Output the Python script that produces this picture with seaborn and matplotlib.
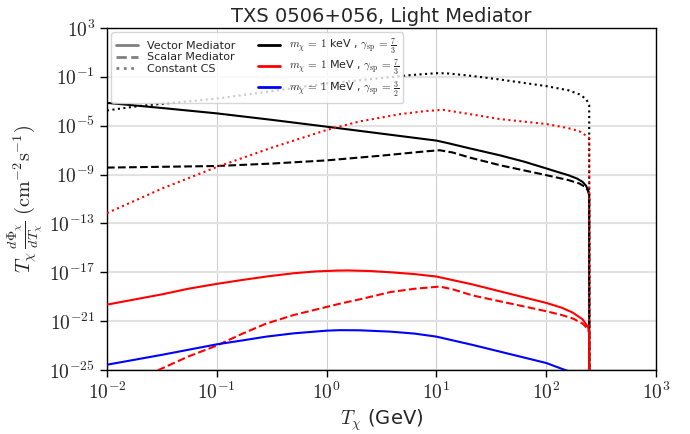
import numpy as np
import pandas as pd
import seaborn as sns
import matplotlib
matplotlib.use("Agg")
import matplotlib.pyplot as plt
from matplotlib.lines import Line2D
from matplotlib.ticker import FixedLocator, FuncFormatter, LogLocator, NullLocator

# ---- data (log10 T [GeV], log10 flux) ----
cut_logT = 2.392  # kinematic cutoff (~247 GeV), flux drops to ~0 there
zero_log = -40.0

keV_vec_logT = [-2, -1.5, -1, -0.5, 0, 0.5, 1.0, 1.1, 1.3, 1.58, 1.8, 2.0, 2.1, 2.2, 2.28, 2.33, 2.36, 2.38, 2.39, cut_logT]
keV_vec_logF = [-3.13, -3.55, -3.99, -4.52, -5.08, -5.65, -6.22, -6.42, -6.85, -7.43, -7.95, -8.5, -8.78, -9.05, -9.33, -9.6, -9.9, -10.25, -10.6, zero_log]

keV_sca_logT = [-2, -1, -0.5, 0, 0.5, 0.9, 1.03, 1.15, 1.3, 1.58, 2.0, 2.2, 2.3, 2.36, 2.38, 2.39, cut_logT]
keV_sca_logF = [-8.43, -8.30, -8.1, -7.84, -7.45, -7.1, -7.01, -7.2, -7.6, -8.24, -9.05, -9.45, -9.73, -10.05, -10.35, -10.7, zero_log]

keV_ccs_logT = [-2, -1.7, -1, -0.5, 0, 0.5, 0.76, 1.0, 1.09, 1.3, 1.58, 2.0, 2.2, 2.3, 2.36, 2.38, 2.39, cut_logT]
keV_ccs_logF = [-3.75, -3.38, -2.78, -2.17, -1.54, -1.1, -0.86, -0.70, -0.71, -0.9, -1.22, -1.76, -2.1, -2.43, -2.8, -3.1, -3.3, zero_log]

MeV_vec_logT = [-2, -1.5, -1.26, -1, -0.76, -0.55, -0.3, -0.1, 0.1, 0.2, 0.4, 0.58, 0.8, 1.0, 1.33, 2.0, 2.14, 2.24, 2.33, 2.38, 2.39, cut_logT]
MeV_vec_logF = [-19.65, -18.81, -18.35, -17.95, -17.62, -17.35, -17.08, -16.93, -16.86, -16.85, -16.9, -17.0, -17.15, -17.35, -18.0, -19.51, -19.9, -20.3, -20.85, -21.5, -21.9, zero_log]

MeV_sca_logT = [-2, -1.53, -1.26, -1, -0.76, -0.55, -0.3, 0, 0.12, 0.3, 0.58, 0.8, 1.03, 1.15, 1.33, 2.0, 2.14, 2.24, 2.33, 2.38, 2.39, cut_logT]
MeV_sca_logF = [-26.8, -25.0, -23.9, -23.0, -22.0, -21.2, -20.5, -19.84, -19.57, -19.22, -18.62, -18.35, -18.17, -18.4, -18.9, -20.19, -20.5, -20.78, -21.2, -21.65, -22.0, zero_log]

MeV_ccs_logT = [-2, -1.5, -1, -0.5, 0, 0.3, 0.67, 0.9, 1.06, 1.2, 1.58, 2.0, 2.2, 2.3, 2.36, 2.39, cut_logT]
MeV_ccs_logF = [-12.16, -10.15, -8.38, -6.8, -5.35, -4.65, -4.05, -3.8, -3.70, -3.9, -4.46, -4.86, -5.2, -5.45, -5.8, -6.0, zero_log]

MeV32_vec_logT = [-2, -1.5, -1, -0.76, -0.55, -0.3, 0, 0.12, 0.3, 0.58, 0.8, 1.0, 1.33, 2.0, 2.17, 2.3, 2.39, cut_logT]
MeV32_vec_logF = [-24.57, -23.76, -22.9, -22.57, -22.27, -22.0, -21.78, -21.74, -21.75, -21.86, -22.02, -22.27, -22.95, -24.43, -25.0, -25.4, -26.0, zero_log]

curves = [
    (keV_vec_logT, keV_vec_logF, "black", "-"),
    (keV_sca_logT, keV_sca_logF, "black", "--"),
    (keV_ccs_logT, keV_ccs_logF, "black", ":"),
    (MeV_vec_logT, MeV_vec_logF, "red", "-"),
    (MeV_sca_logT, MeV_sca_logF, "red", "--"),
    (MeV_ccs_logT, MeV_ccs_logF, "red", ":"),
    (MeV32_vec_logT, MeV32_vec_logF, "blue", "-"),
]

style_labels = ["Vector Mediator", "Scalar Mediator", "Constant CS"]
model_labels = [r"$m_\chi\,=\,1$ keV , $\gamma_{\rm sp}\,=\,\frac{7}{3}$",
                r"$m_\chi\,=\,1$ MeV , $\gamma_{\rm sp}\,=\,\frac{7}{3}$",
                r"$m_\chi\,=\,1$ MeV , $\gamma_{\rm sp}\,=\,\frac{3}{2}$"]
title = "TXS 0506+056, Light Mediator"
yticks_exp = [3, -1, -5, -9, -13, -17, -21, -25]
xticks_exp = [-2, -1, 0, 1, 2, 3]

# ---- plotting ----
sns.set_style("white")
plt.rcParams["font.family"] = ["DejaVu Sans"]
plt.rcParams["mathtext.fontset"] = "cm"

fig = plt.figure(figsize=(6.9, 4.34), dpi=100)
ax = fig.add_axes([0.155, 0.1475, 0.796, 0.788])

for lt, lf, col, ls in curves:
    df = pd.DataFrame({"T": np.power(10.0, lt), "F": np.power(10.0, lf)})
    sns.lineplot(data=df, x="T", y="F", color=col, linestyle=ls, lw=1.5,
                 sort=False, estimator=None, ax=ax, zorder=3)

ax.set_xscale("log")
ax.set_yscale("log")
ax.set_xlim(1e-2, 1e3)
ax.set_ylim(1e-25, 1e3)

ax.yaxis.set_major_locator(FixedLocator([10.0 ** e for e in yticks_exp]))
ax.yaxis.set_minor_locator(NullLocator())
ax.xaxis.set_major_locator(FixedLocator([10.0 ** e for e in xticks_exp]))
ax.xaxis.set_minor_locator(LogLocator(base=10, subs=np.arange(2, 10)))
fmt = FuncFormatter(lambda v, p: r"$10^{%d}$" % int(round(np.log10(v))))
ax.xaxis.set_major_formatter(fmt)
ax.yaxis.set_major_formatter(fmt)
ax.xaxis.set_minor_formatter(plt.NullFormatter())

ax.tick_params(axis="both", which="major", labelsize=14, length=5, width=1, direction="out", color="black")
ax.tick_params(axis="x", which="minor", length=3, width=0.8, direction="out", color="black")
ax.tick_params(left=True, bottom=True)
ax.grid(True, which="major", axis="y", color="#e2e2e2", lw=1.5, zorder=0)
ax.grid(True, which="major", axis="x", color="#cfcfcf", lw=0.8, zorder=0)
for s in ax.spines.values():
    s.set_color("black")
    s.set_linewidth(1.0)

ax.set_xlabel(r"$T_\chi$ (GeV)", fontsize=14, labelpad=3)
ax.set_ylabel(r"$T_\chi\,\frac{d\Phi_\chi}{dT_\chi}\ (\mathrm{cm}^{-2}\mathrm{s}^{-1})$", fontsize=14.5, labelpad=3)
ax.set_title(title, fontsize=14, pad=4)

handles = [Line2D([], [], color="gray", ls="-", lw=2),
           Line2D([], [], color="gray", ls="--", lw=2),
           Line2D([], [], color="gray", ls=":", lw=2),
           Line2D([], [], color="black", ls="-", lw=2),
           Line2D([], [], color="red", ls="-", lw=2),
           Line2D([], [], color="blue", ls="-", lw=2)]
leg = ax.legend(handles, style_labels + model_labels, ncol=2, loc="upper left",
                fontsize=8, frameon=True, framealpha=0.8, edgecolor="#cccccc",
                handlelength=2.0, columnspacing=2.0, labelspacing=0.15,
                borderaxespad=0.4, handletextpad=0.8, borderpad=0.4)
leg.set_zorder(5)

fig.savefig("out.png", dpi=100)
